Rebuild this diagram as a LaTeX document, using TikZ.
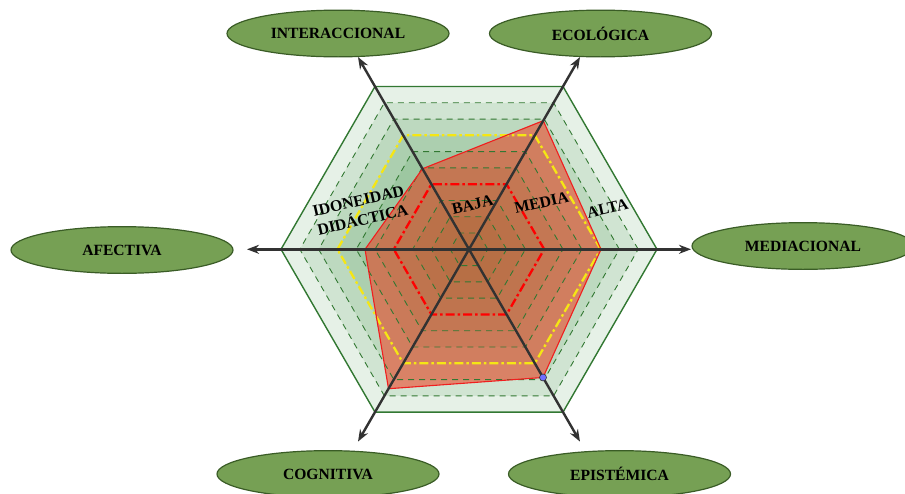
\documentclass[tikz,border=0pt]{standalone}
\usepackage{fontspec}
\setmainfont{Liberation Serif}
\usetikzlibrary{calc,arrows.meta,shapes.geometric}
\definecolor{ellfill}{RGB}{118,160,84}
\definecolor{elldraw}{RGB}{58,92,38}
\definecolor{hexgreen}{RGB}{56,142,60}
\definecolor{hexline}{RGB}{50,120,50}
\definecolor{datared}{RGB}{240,60,30}
\definecolor{dataline}{RGB}{240,30,30}
\definecolor{axisgray}{RGB}{50,50,50}
\definecolor{lvlyellow}{RGB}{245,230,20}
\definecolor{dotblue}{RGB}{110,110,255}
\tikzset{
  dimbox/.style={ellipse, draw=elldraw, line width=1.2pt, fill=ellfill,
    minimum width=222pt, minimum height=46.7pt, inner sep=0pt,
    font=\fontsize{15.6}{18}\selectfont\bfseries},
  hexfillstyle/.style={fill=hexgreen, fill opacity=0.12},
  hexdash/.style={draw=hexline, line width=0.9pt, dash pattern=on 6pt off 5pt},
  hexouter/.style={draw=hexline, line width=1.4pt},
  lvlred/.style={draw=red, line width=2.3pt, dash pattern=on 9pt off 3pt on 2.5pt off 3pt},
  lvlyel/.style={draw=lvlyellow, line width=2.3pt, dash pattern=on 9pt off 3pt on 2.5pt off 3pt},
  datafill/.style={fill=datared, fill opacity=0.55},
  dataedge/.style={draw=dataline, line width=1.1pt},
  axisline/.style={draw=axisgray, line width=2.4pt, {Stealth[length=12pt,width=9pt]}-{Stealth[length=12pt,width=9pt]}},
  innerlabel/.style={font=\fontsize{16}{19.5}\selectfont\bfseries, rotate=13, align=center, inner sep=0pt}
}
\begin{document}
\begin{tikzpicture}[x=1pt,y=1pt]
\useasboundingbox (0,0) rectangle (905,-493);
\fill[white] (0,0) rectangle (905,-493);
\begin{scope}[shift={(469,-249.3)}]
  \coordinate (O) at (0,0);
  % green level fills
  \foreach \k in {1,...,10}{
    \fill[hexfillstyle] (0:{\k*18.8}) -- (60:{\k*18.8}) -- (120:{\k*18.8}) -- (180:{\k*18.8}) -- (240:{\k*18.8}) -- (300:{\k*18.8}) -- cycle;
  }
  % data polygon
  \coordinate (pI) at (120:93);
  \coordinate (pEc) at (60:148.5);
  \coordinate (pM) at (0:132);
  \coordinate (pEp) at (300:148);
  \coordinate (pC) at (240:161);
  \coordinate (pA) at (180:104);
  \fill[datafill] (pI) -- (pEc) -- (pM) -- (pEp) -- (pC) -- (pA) -- cycle;
  % level lines
  \foreach \k in {1,2,3,5,6,8,9}{
    \draw[hexdash] (0:{\k*18.8}) -- (60:{\k*18.8}) -- (120:{\k*18.8}) -- (180:{\k*18.8}) -- (240:{\k*18.8}) -- (300:{\k*18.8}) -- cycle;
  }
  \draw[lvlred] (0:75.2) -- (60:75.2) -- (120:75.2) -- (180:75.2) -- (240:75.2) -- (300:75.2) -- cycle;
  \draw[lvlyel] (0:131.6) -- (60:131.6) -- (120:131.6) -- (180:131.6) -- (240:131.6) -- (300:131.6) -- cycle;
  \draw[hexouter] (0:188) -- (60:188) -- (120:188) -- (180:188) -- (240:188) -- (300:188) -- cycle;
  \draw[dataedge] (pI) -- (pEc) -- (pM) -- (pEp) -- (pC) -- (pA) -- cycle;
  % axes
  \coordinate (tI) at (120:222);
  \coordinate (tEc) at (60:222);
  \coordinate (tM) at (0:222);
  \coordinate (tEp) at (300:222);
  \coordinate (tC) at (240:222);
  \coordinate (tA) at (180:222);
  \draw[axisline] (tI) -- (tEp);
  \draw[axisline] (tEc) -- (tC);
  \draw[axisline] (tA) -- (tM);
  \node[circle, fill=dotblue, draw=axisgray, line width=0.6pt, inner sep=0pt, minimum size=7pt] (dot) at (pEp) {};
\end{scope}
% inner labels
\node[innerlabel] (idon) at (360.5,-210.5) {IDONEIDAD\\DIDÁCTICA};
\node[innerlabel] (baja) at (472.5,-205) {BAJA};
\node[innerlabel] (media) at (541.5,-202.5) {MEDIA};
\node[innerlabel] (alta) at (607.5,-208.3) {ALTA};
% dimension ellipses
\node[dimbox] (interaccional) at (338,-33.5) {INTERACCIONAL};
\node[dimbox] (ecologica) at (600.5,-33.5) {ECOLÓGICA};
\node[dimbox] (afectiva) at (122,-250) {AFECTIVA};
\node[dimbox] (mediacional) at (803,-246) {MEDIACIONAL};
\node[dimbox] (cognitiva) at (328,-474) {COGNITIVA};
\node[dimbox] (epistemica) at (619.5,-474) {EPISTÉMICA};
\end{tikzpicture}
\end{document}
